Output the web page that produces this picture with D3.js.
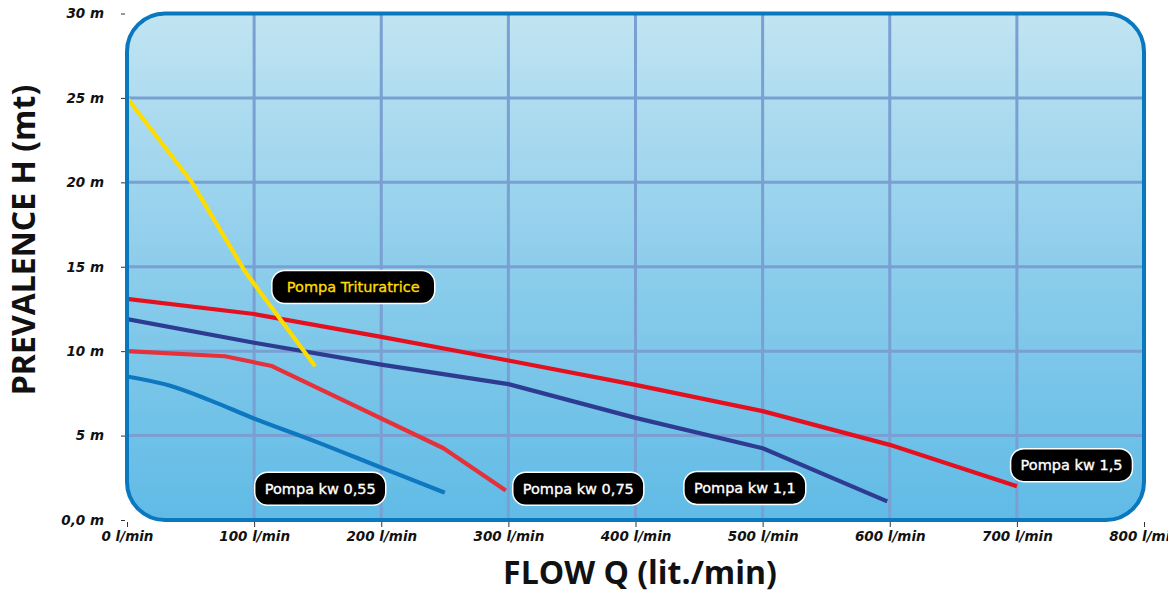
<!DOCTYPE html>
<html>
<head>
<meta charset="utf-8">
<script src="https://cdn.jsdelivr.net/npm/d3@7"></script>
<style>
  html, body { margin: 0; padding: 0; background: #ffffff; }
  svg { display: block; }
</style>
</head>
<body>
<svg id="chart" width="1168" height="591"></svg>
<script>
// ---------- data ----------
const flowTicks = [0, 100, 200, 300, 400, 500, 600, 700, 800];
const flowTickLabels = ["0 l/min", "100 l/min", "200 l/min", "300 l/min", "400 l/min", "500 l/min", "600 l/min", "700 l/min", "800 l/min"];
const headTicks = [0, 5, 10, 15, 20, 25, 30];
const headTickLabels = ["0,0 m", "5 m", "10 m", "15 m", "20 m", "25 m", "30 m"];

const seriesNames = ["Pompa Trituratrice", "Pompa kw 1,5", "Pompa kw 1,1", "Pompa kw 0,75", "Pompa kw 0,55"];
const trituratrice = [[0, 25], [51, 20], [93, 14.7], [148, 9.1]];
const kw15 = [[0, 13.1], [100, 12.2], [200, 10.85], [300, 9.45], [400, 8.0], [500, 6.45], [600, 4.45], [700, 2.0]];
const kw11 = [[0, 11.9], [100, 10.5], [200, 9.2], [300, 8.05], [400, 6.05], [500, 4.25], [598, 1.1]];
const kw075 = [[0, 10.0], [77, 9.7], [114, 9.12], [249, 4.25], [298, 1.75]];
const kw055 = [[0, 8.5], [34, 7.95], [65, 7.1], [97, 6.1], [150, 4.6], [200, 3.1], [250, 1.62]];

// label anchor (flow, head) for each series tag
const labelFlow = [178, 743, 486, 355, 152];
const labelHead = [13.8, 3.25, 1.9, 1.85, 1.85];

// ---------- layout ----------
const svg = d3.select("#chart");
const x = d3.scaleLinear().domain([0, 800]).range([127, 1144]);
const y = d3.scaleLinear().domain([0, 30]).range([520, 13.5]);

const colors = ["#ffdc00", "#e3101f", "#2d3c90", "#e4313a", "#0d77c0"];
const textColors = ["#ffdc00", "#ffffff", "#ffffff", "#ffffff", "#ffffff"];

// gradient
const defs = svg.append("defs");
const grad = defs.append("linearGradient").attr("id", "bg").attr("x1", 0).attr("y1", 0).attr("x2", 0).attr("y2", 1);
grad.append("stop").attr("offset", "0%").attr("stop-color", "#c1e4f2");
grad.append("stop").attr("offset", "50%").attr("stop-color", "#8ccdeb");
grad.append("stop").attr("offset", "100%").attr("stop-color", "#60bbe6");

const bx = x(0), by = y(30), bw = x(800) - x(0), bh = y(0) - y(30);
defs.append("clipPath").attr("id", "clip").append("rect")
  .attr("x", bx).attr("y", by).attr("width", bw).attr("height", bh).attr("rx", 38).attr("ry", 38);

svg.append("rect").attr("x", bx).attr("y", by).attr("width", bw).attr("height", bh)
  .attr("rx", 38).attr("ry", 38).attr("fill", "url(#bg)");

const gridG = svg.append("g").attr("clip-path", "url(#clip)");
gridG.selectAll("line.v").data(flowTicks.slice(1, -1)).enter().append("line")
  .attr("x1", d => x(d)).attr("x2", d => x(d)).attr("y1", by).attr("y2", y(0))
  .attr("stroke", "#7a9fd2").attr("stroke-width", 3);
gridG.selectAll("line.h").data(headTicks.slice(1, -1)).enter().append("line")
  .attr("y1", d => y(d)).attr("y2", d => y(d)).attr("x1", bx).attr("x2", x(800))
  .attr("stroke", "#7a9fd2").attr("stroke-width", 3);

// curves
const line = d3.line().x(d => x(d[0])).y(d => y(d[1]));
const smooth = d3.line().x(d => x(d[0])).y(d => y(d[1])).curve(d3.curveMonotoneX);
const allSeries = [kw055, kw075, kw11, kw15, trituratrice];
const allColors = [colors[4], colors[3], colors[2], colors[1], colors[0]];
const curveG = svg.append("g").attr("clip-path", "url(#clip)");
curveG.selectAll("path").data(allSeries).enter().append("path")
  .attr("d", (d, i) => i === 0 ? smooth(d) : line(d))
  .attr("fill", "none")
  .attr("stroke", (d, i) => allColors[i])
  .attr("stroke-width", 4.2)
  .attr("stroke-linejoin", "round");

// border
svg.append("rect").attr("x", bx).attr("y", by).attr("width", bw).attr("height", bh)
  .attr("rx", 38).attr("ry", 38).attr("fill", "none").attr("stroke", "#0a78bf").attr("stroke-width", 4);

// axes
const yAxis = d3.axisLeft(y).tickValues(headTicks).tickSize(4).tickPadding(17)
  .tickFormat((d, i) => headTickLabels[i]);
const yg = svg.append("g").attr("transform", "translate(125,0)").call(yAxis);
yg.select(".domain").remove();
yg.selectAll(".tick line").attr("stroke", "#333").attr("stroke-width", 1);
yg.selectAll("text").attr("font-family", "DejaVu Sans").attr("font-weight", "bold")
  .attr("font-style", "italic").attr("font-size", 13.5).attr("fill", "#111");

const xAxis = d3.axisBottom(x).tickValues(flowTicks).tickSize(5).tickPadding(4)
  .tickFormat((d, i) => flowTickLabels[i]);
const xg = svg.append("g").attr("transform", "translate(0,522)").call(xAxis);
xg.select(".domain").remove();
xg.selectAll(".tick line").attr("stroke", "#333").attr("stroke-width", 1);
xg.selectAll("text").attr("font-family", "DejaVu Sans").attr("font-weight", "bold")
  .attr("font-style", "italic").attr("font-size", 13.5).attr("fill", "#111");

// axis titles
svg.append("text").attr("transform", "translate(35,240) rotate(-90)")
  .attr("text-anchor", "middle").attr("font-family", "Open Sans").attr("font-weight", "bold")
  .attr("font-size", 32).attr("fill", "#111").text("PREVALENCE H (mt)");
svg.append("text").attr("x", 640).attr("y", 584)
  .attr("text-anchor", "middle").attr("font-family", "Open Sans").attr("font-weight", "bold")
  .attr("font-size", 32).attr("fill", "#111").text("FLOW Q (lit./min)");

// labels
seriesNames.forEach((name, i) => {
  const g = svg.append("g").attr("transform", `translate(${x(labelFlow[i])},${y(labelHead[i])})`);
  const t = g.append("text").attr("text-anchor", "middle").attr("dy", "0.36em")
    .attr("font-family", "DejaVu Sans").attr("font-size", 14.5).attr("fill", textColors[i])
    .attr("stroke", textColors[i]).attr("stroke-width", 0.35)
    .text(name);
  const w = t.node().getComputedTextLength();
  const bw2 = w + (i === 0 ? 30 : 20), bh2 = 33;
  g.insert("rect", "text").attr("x", -bw2 / 2).attr("y", -bh2 / 2).attr("width", bw2).attr("height", bh2)
    .attr("rx", 13).attr("ry", 13).attr("fill", "#000").attr("stroke", "#ffffff").attr("stroke-width", 1.5);
});
</script>
</body>
</html>
